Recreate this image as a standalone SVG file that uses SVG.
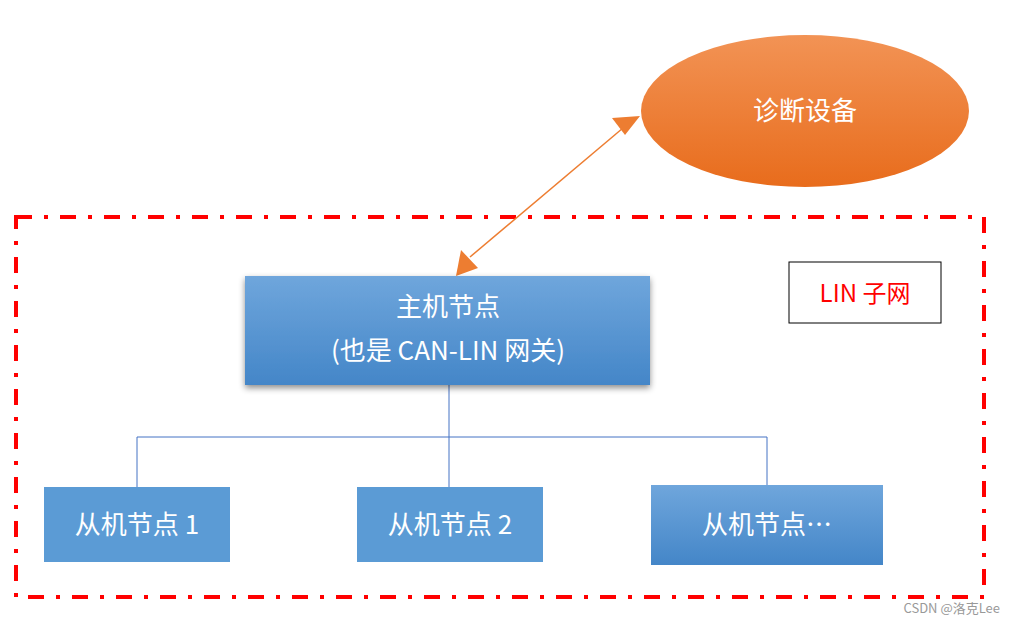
<svg xmlns="http://www.w3.org/2000/svg" width="1016" height="625" viewBox="0 0 1016 625">
<style>
.t{font-family:"Noto Sans CJK SC","Noto Sans",sans-serif;fill:#fff;text-anchor:middle}
.ln{stroke:#4472C4;stroke-width:1;fill:none}
</style>
<defs>
<linearGradient id="bg" x1="0" y1="0" x2="0" y2="1"><stop offset="0" stop-color="#6FA6DC"/><stop offset="1" stop-color="#4486C8"/></linearGradient>
<linearGradient id="og" x1="0" y1="0" x2="0" y2="1"><stop offset="0" stop-color="#F29355"/><stop offset="1" stop-color="#E86C1C"/></linearGradient>
<filter id="sh" x="-10%" y="-10%" width="120%" height="130%"><feDropShadow dx="0" dy="3" stdDeviation="3" flood-color="#000" flood-opacity="0.45"/></filter>
<marker id="ah" viewBox="0 0 10 10" refX="9" refY="5" markerWidth="7" markerHeight="7" orient="auto-start-reverse" markerUnits="userSpaceOnUse"><path d="M0,0L10,5L0,10z" fill="#ED7D31"/></marker>
<marker id="ah2" viewBox="0 0 10 10" refX="9" refY="5" markerWidth="26" markerHeight="26" orient="auto-start-reverse" markerUnits="userSpaceOnUse"><path d="M0,1L10,5L0,9z" fill="#ED7D31"/></marker>
</defs>
<rect width="1016" height="625" fill="#fff"/>
<rect x="16" y="217" width="968" height="380" fill="none" stroke="#FF0000" stroke-width="4" stroke-dasharray="16 12 4 12"/>
<g id="connectors">
<line x1="470" y1="257" x2="623" y2="128" stroke="#ED7D31" stroke-width="1.5"/>
<path d="M640,116 L612,118 L625,135z" fill="#ED7D31"/>
<path d="M456,276 L461,250 L478,268z" fill="#ED7D31"/>
<path class="ln" d="M449,385V487M137,487V437H767V485"/>
</g>
<g id="diag"><ellipse cx="805" cy="111" rx="164" ry="76" fill="url(#og)"/><text class="t" x="805" y="120" font-size="26">诊断设备</text></g>
<g id="host"><rect x="245" y="276" width="405" height="109" fill="url(#bg)" filter="url(#sh)"/>
<text class="t" x="448" y="316" font-size="26">主机节点</text>
<text class="t" x="448" y="360" font-size="26">(也是 CAN-LIN 网关)</text></g>
<g id="s1"><rect x="44" y="487" width="186" height="75" fill="#5B9BD5"/><text class="t" x="137" y="534" font-size="26">从机节点 1</text></g>
<g id="s2"><rect x="357" y="487" width="186" height="75" fill="#5B9BD5"/><text class="t" x="450" y="534" font-size="26">从机节点 2</text></g>
<g id="s3"><rect x="651" y="485" width="232" height="80" fill="url(#bg)"/><text class="t" x="767" y="534" font-size="26">从机节点…</text></g>
<g id="label"><rect x="789" y="262" width="152" height="61" fill="#fff" stroke="#000" stroke-width="1"/><text x="865" y="302" font-size="24" fill="#FF0000" text-anchor="middle" font-family="Noto Sans CJK SC,sans-serif">LIN 子网</text></g>
<text x="1000" y="613" font-size="13" fill="#999" text-anchor="end" font-family="Noto Sans CJK SC,sans-serif">CSDN @洛克Lee</text>
</svg>
